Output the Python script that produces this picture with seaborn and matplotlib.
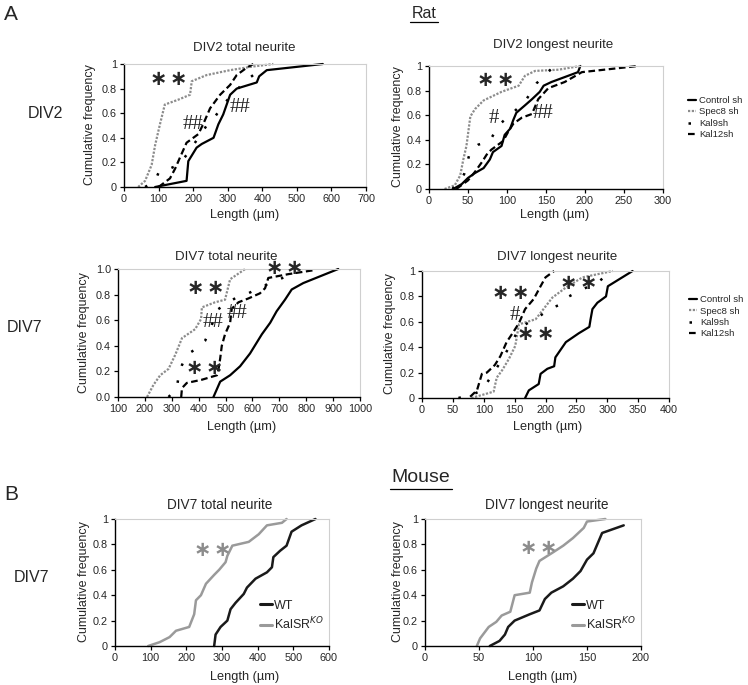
import matplotlib
matplotlib.use("Agg")
import matplotlib.pyplot as plt
from matplotlib.lines import Line2D
import seaborn as sns
import pandas as pd

sns.set_theme(style="white")
plt.rcParams['font.family'] = ['Liberation Sans', 'DejaVu Sans']
plt.rcParams['mathtext.fontset'] = 'dejavusans'

# ---- Rat, DIV2 total neurite ----
r2t_ctrl_x = [90, 181, 186, 210, 225, 259, 273, 287, 297, 307, 326, 384, 391, 413, 575]
r2t_ctrl_y = [0, 0.05, 0.21, 0.32, 0.35, 0.40, 0.51, 0.59, 0.67, 0.75, 0.80, 0.85, 0.90, 0.95, 1.0]
r2t_spec_x = [41, 61, 80, 90, 104, 118, 157, 191, 196, 239, 307, 374, 432]
r2t_spec_y = [0, 0.05, 0.18, 0.34, 0.51, 0.67, 0.71, 0.75, 0.86, 0.91, 0.95, 0.98, 1.0]
r2t_kal9_x = [61, 90, 102, 133, 157, 181, 215, 244, 258, 290, 330, 350, 374, 400]
r2t_kal9_y = [0, 0.05, 0.13, 0.15, 0.18, 0.26, 0.40, 0.52, 0.55, 0.68, 0.80, 0.86, 0.91, 0.98]
r2t_kal12_x = [100, 133, 148, 162, 181, 215, 229, 249, 278, 307, 326, 355, 374]
r2t_kal12_y = [0, 0.07, 0.15, 0.24, 0.36, 0.43, 0.51, 0.64, 0.75, 0.83, 0.91, 0.97, 1.0]

# ---- Rat, DIV2 longest neurite ----
r2l_ctrl_x = [31, 42, 50, 59, 70, 78, 82, 93, 97, 104, 108, 112, 123, 132, 142, 147, 157, 174, 191, 194]
r2l_ctrl_y = [0, 0.04, 0.09, 0.13, 0.17, 0.24, 0.30, 0.35, 0.44, 0.49, 0.56, 0.62, 0.68, 0.73, 0.79, 0.84, 0.87, 0.91, 0.95, 1.0]
r2l_spec_x = [20, 33, 40, 44, 48, 53, 59, 70, 93, 115, 123, 136, 166, 194]
r2l_spec_y = [0, 0.03, 0.11, 0.24, 0.35, 0.59, 0.65, 0.72, 0.79, 0.84, 0.92, 0.96, 0.97, 1.0]
r2l_kal9_x = [30, 45, 53, 63, 78, 85, 93, 104, 123, 138, 159]
r2l_kal9_y = [0, 0.12, 0.31, 0.36, 0.39, 0.47, 0.54, 0.60, 0.71, 0.86, 0.99]
r2l_kal12_x = [35, 50, 59, 68, 74, 80, 95, 102, 108, 119, 132, 140, 153, 174, 196, 268]
r2l_kal12_y = [0, 0.07, 0.14, 0.22, 0.28, 0.32, 0.39, 0.47, 0.53, 0.58, 0.61, 0.73, 0.82, 0.87, 0.95, 1.0]

# ---- Rat, DIV7 total neurite ----
r7t_ctrl_x = [455, 480, 517, 554, 591, 635, 666, 690, 721, 746, 789, 919]
r7t_ctrl_y = [0, 0.12, 0.17, 0.24, 0.34, 0.49, 0.58, 0.67, 0.76, 0.84, 0.89, 1.0]
r7t_spec_x = [208, 232, 257, 288, 313, 338, 387, 409, 412, 461, 498, 517, 573]
r7t_spec_y = [0, 0.095, 0.17, 0.22, 0.33, 0.46, 0.53, 0.61, 0.70, 0.74, 0.76, 0.92, 1.0]
r7t_kal9_x = [288, 319, 325, 338, 356, 393, 424, 442, 468, 542, 585, 622, 700, 760]
r7t_kal9_y = [0, 0.07, 0.16, 0.25, 0.33, 0.38, 0.44, 0.52, 0.68, 0.78, 0.81, 0.85, 0.92, 0.97]
r7t_kal12_x = [335, 338, 356, 412, 468, 474, 480, 486, 498, 517, 523, 548, 585, 628, 647, 659, 734, 826]
r7t_kal12_y = [0, 0.07, 0.11, 0.135, 0.17, 0.22, 0.30, 0.40, 0.49, 0.58, 0.69, 0.74, 0.77, 0.81, 0.85, 0.93, 0.96, 0.99]

# ---- Rat, DIV7 longest neurite ----
r7l_ctrl_x = [167, 173, 189, 192, 203, 214, 216, 233, 254, 271, 273, 276, 284, 298, 301, 341]
r7l_ctrl_y = [0, 0.06, 0.11, 0.19, 0.23, 0.25, 0.32, 0.44, 0.51, 0.56, 0.62, 0.70, 0.75, 0.80, 0.88, 1.0]
r7l_spec_x = [80, 116, 121, 130, 141, 151, 157, 184, 192, 211, 233, 260, 309]
r7l_spec_y = [0, 0.05, 0.16, 0.22, 0.31, 0.41, 0.58, 0.62, 0.67, 0.79, 0.87, 0.95, 1.0]
r7l_kal9_x = [59, 83, 97, 108, 124, 146, 157, 189, 210, 227, 238, 254, 287, 300]
r7l_kal9_y = [0, 0.03, 0.06, 0.14, 0.26, 0.44, 0.55, 0.64, 0.71, 0.74, 0.80, 0.84, 0.92, 0.97]
r7l_kal12_x = [78, 89, 97, 105, 118, 127, 137, 148, 157, 167, 181, 192, 200, 214]
r7l_kal12_y = [0.01, 0.06, 0.19, 0.20, 0.26, 0.33, 0.44, 0.52, 0.59, 0.70, 0.78, 0.88, 0.95, 1.0]

# ---- Mouse, DIV7 total neurite ----
m7t_wt_x = [278, 282, 296, 315, 324, 338, 361, 370, 394, 426, 440, 444, 463, 481, 495, 523, 562]
m7t_wt_y = [0, 0.09, 0.15, 0.20, 0.29, 0.34, 0.41, 0.46, 0.53, 0.58, 0.62, 0.70, 0.75, 0.79, 0.90, 0.95, 1.0]
m7t_ko_x = [93, 125, 153, 171, 208, 222, 227, 241, 255, 278, 292, 310, 315, 329, 375, 403, 426, 468, 481]
m7t_ko_y = [0, 0.03, 0.07, 0.12, 0.15, 0.25, 0.36, 0.40, 0.49, 0.56, 0.60, 0.66, 0.71, 0.79, 0.82, 0.88, 0.95, 0.97, 1.0]

# ---- Mouse, DIV7 longest neurite ----
m7l_wt_x = [60, 69, 74, 77, 83, 97, 106, 111, 117, 128, 137, 144, 150, 156, 164, 184]
m7l_wt_y = [0, 0.04, 0.09, 0.15, 0.20, 0.25, 0.28, 0.37, 0.42, 0.47, 0.53, 0.59, 0.68, 0.73, 0.89, 0.95]
m7l_ko_x = [48, 51, 59, 66, 71, 79, 83, 97, 99, 103, 106, 119, 128, 137, 147, 150, 167]
m7l_ko_y = [0, 0.06, 0.15, 0.19, 0.24, 0.27, 0.40, 0.42, 0.50, 0.61, 0.67, 0.74, 0.79, 0.85, 0.93, 0.98, 1.0]

RAT_GROUPS = ['Control sh', 'Spec8 sh', 'Kal9sh', 'Kal12sh']
MOUSE_GROUPS = ['WT', 'KalSR$^{KO}$']

STYLES = {
    'Control sh': dict(color='black', lw=1.6, ls='-'),
    'Spec8 sh': dict(color='#8c8c8c', lw=1.6, ls=(0, (1, 0.7))),
    'Kal9sh': dict(color='black', lw=1.8, ls=(0, (1, 6))),
    'Kal12sh': dict(color='black', lw=1.6, ls=(0, (3, 1.6))),
    'WT': dict(color='#1a1a1a', lw=1.8, ls='-'),
    'KalSR$^{KO}$': dict(color='#9a9a9a', lw=1.8, ls='-'),
}

W, H = 748, 685
fig = plt.figure(figsize=(W / 100, H / 100), dpi=100)


def px_rect(l, t, r, b):
    return [l / W, 1 - b / H, (r - l) / W, (b - t) / H]


def ftext(x, y, s, **kw):
    kw.setdefault('ha', 'center')
    kw.setdefault('va', 'center')
    fig.text(x / W, 1 - y / H, s, **kw)


def make_df(groups, xs_list, ys_list):
    frames = []
    for g, xs, ys in zip(groups, xs_list, ys_list):
        frames.append(pd.DataFrame({'length': xs, 'freq': ys, 'group': g}))
    return pd.concat(frames, ignore_index=True)


def draw_panel(ax, df, xlim, xstep, yfmt):
    for g in df['group'].unique():
        st = STYLES[g]
        sns.lineplot(data=df[df['group'] == g], x='length', y='freq', ax=ax,
                     sort=False, estimator=None, legend=False,
                     color=st['color'], linewidth=st['lw'], linestyle=st['ls'],
                     clip_on=False)
    ax.set_xlim(*xlim)
    ax.set_ylim(0, 1)
    ax.set_xticks(list(range(xlim[0], xlim[1] + 1, xstep)))
    yt = [0, 0.2, 0.4, 0.6, 0.8, 1.0]
    ax.set_yticks(yt)
    ax.set_yticklabels([format(v, yfmt) if yfmt else ('%g' % v) for v in yt])
    ax.set_xlabel('')
    ax.set_ylabel('')
    ax.tick_params(axis='both', which='major', labelsize=7.8, direction='out',
                   length=3, width=0.9, color='black', pad=2,
                   bottom=True, left=True)
    for side in ['left', 'bottom']:
        ax.spines[side].set_color('black')
        ax.spines[side].set_linewidth(1.0)
    for side in ['top', 'right']:
        ax.spines[side].set_color('#cfcfcf')
        ax.spines[side].set_linewidth(0.8)
    ax.set_facecolor('white')


def rat_legend(ax, anchor):
    handles = [Line2D([], [], color=STYLES[g]['color'], lw=STYLES[g]['lw'],
                      ls=STYLES[g]['ls']) for g in RAT_GROUPS]
    ax.legend(handles, RAT_GROUPS, loc='center left', bbox_to_anchor=anchor,
              frameon=False, fontsize=6.8, handlelength=0.9, handletextpad=0.3,
              labelspacing=0.25, borderaxespad=0)


def mouse_legend(ax):
    handles = [Line2D([], [], color=STYLES[g]['color'], lw=2.2, ls='-')
               for g in MOUSE_GROUPS]
    ax.legend(handles, MOUSE_GROUPS, loc='lower right', bbox_to_anchor=(1.0, 0.07),
              frameon=False, fontsize=9, handlelength=0.9, handletextpad=0.2,
              labelspacing=0.3, borderaxespad=0)


# axes placed to match the original layout
ax1 = fig.add_axes(px_rect(124, 64, 366, 187))
ax2 = fig.add_axes(px_rect(429, 66, 663, 189))
ax3 = fig.add_axes(px_rect(118, 269, 360, 397))
ax4 = fig.add_axes(px_rect(422, 271, 669, 398))
ax5 = fig.add_axes(px_rect(115, 519, 329, 646))
ax6 = fig.add_axes(px_rect(425, 519, 641, 646))

draw_panel(ax1, make_df(RAT_GROUPS, [r2t_ctrl_x, r2t_spec_x, r2t_kal9_x, r2t_kal12_x],
                        [r2t_ctrl_y, r2t_spec_y, r2t_kal9_y, r2t_kal12_y]), (0, 700), 100, None)
draw_panel(ax2, make_df(RAT_GROUPS, [r2l_ctrl_x, r2l_spec_x, r2l_kal9_x, r2l_kal12_x],
                        [r2l_ctrl_y, r2l_spec_y, r2l_kal9_y, r2l_kal12_y]), (0, 300), 50, None)
draw_panel(ax3, make_df(RAT_GROUPS, [r7t_ctrl_x, r7t_spec_x, r7t_kal9_x, r7t_kal12_x],
                        [r7t_ctrl_y, r7t_spec_y, r7t_kal9_y, r7t_kal12_y]), (100, 1000), 100, '.1f')
draw_panel(ax4, make_df(RAT_GROUPS, [r7l_ctrl_x, r7l_spec_x, r7l_kal9_x, r7l_kal12_x],
                        [r7l_ctrl_y, r7l_spec_y, r7l_kal9_y, r7l_kal12_y]), (0, 400), 50, None)
draw_panel(ax5, make_df(MOUSE_GROUPS, [m7t_wt_x, m7t_ko_x], [m7t_wt_y, m7t_ko_y]), (0, 600), 100, None)
draw_panel(ax6, make_df(MOUSE_GROUPS, [m7l_wt_x, m7l_ko_x], [m7l_wt_y, m7l_ko_y]), (0, 200), 50, None)

rat_legend(ax2, (1.09, 0.58))
rat_legend(ax4, (1.065, 0.64))
mouse_legend(ax5)
mouse_legend(ax6)

# significance marks
STARS = r'$\mathbf{\ast}\,\mathbf{\ast}$'
star_kw = dict(fontsize=15, ha='center', va='center')
hash_kw = dict(fontsize=15, ha='center', va='center', family=['Liberation Serif'])
ax1.text(128, 0.87, STARS, **star_kw)
ax1.text(200, 0.51, '##', **hash_kw)
ax1.text(336, 0.65, '##', **hash_kw)
ax2.text(84, 0.88, STARS, **star_kw)
ax2.text(83, 0.57, '#', **hash_kw)
ax2.text(146, 0.61, '##', **hash_kw)
ax3.text(424, 0.85, STARS, **star_kw)
ax3.text(455, 0.58, '##', **hash_kw)
ax3.text(542, 0.65, '##', **hash_kw)
ax3.text(418, 0.22, STARS, **star_kw)
ax3.text(718, 1.0, STARS, **star_kw)
ax4.text(143, 0.82, STARS, **star_kw)
ax4.text(151, 0.65, '#', **hash_kw)
ax4.text(183, 0.50, STARS, **star_kw)
ax4.text(252, 0.90, STARS, **star_kw)
ax5.text(273, 0.75, STARS, color='#8c8c8c', **star_kw)
ax6.text(105, 0.77, STARS, color='#8c8c8c', **star_kw)

# titles, axis labels
ftext(244, 48, 'DIV2 total neurite', fontsize=9.5)
ftext(553, 45, 'DIV2 longest neurite', fontsize=9.5)
ftext(226, 257, 'DIV7 total neurite', fontsize=9.5)
ftext(557, 257, 'DIV7 longest neurite', fontsize=9.5)
ftext(220, 505, 'DIV7 total neurite', fontsize=9.8)
ftext(547, 505, 'DIV7 longest neurite', fontsize=9.8)

for x, y in [(245, 215), (555, 215), (242, 427), (548, 427), (245, 677), (543, 677)]:
    ftext(x, y, 'Length (µm)', fontsize=9.2)
for x, yc in [(90, 125), (398, 127), (84, 333), (390, 334), (84, 582), (398, 582)]:
    ftext(x, yc, 'Cumulative frequency', fontsize=9, rotation=90)

# row / section labels
ftext(45, 113, 'DIV2', fontsize=11.5)
ftext(25, 327, 'DIV7', fontsize=11.5)
ftext(32, 577, 'DIV7', fontsize=11.5)
ftext(4, 14, 'A', fontsize=15, ha='left')
ftext(4, 494, 'B', fontsize=15, ha='left')
ftext(424, 14, 'Rat', fontsize=11.5)
fig.add_artist(Line2D([410 / W, 438 / W], [1 - 22 / H, 1 - 22 / H], color='black', lw=0.9))
ftext(421, 478, 'Mouse', fontsize=14)
fig.add_artist(Line2D([390 / W, 452 / W], [1 - 489 / H, 1 - 489 / H], color='black', lw=0.9))

fig.savefig('out.png', dpi=100, facecolor='white')
